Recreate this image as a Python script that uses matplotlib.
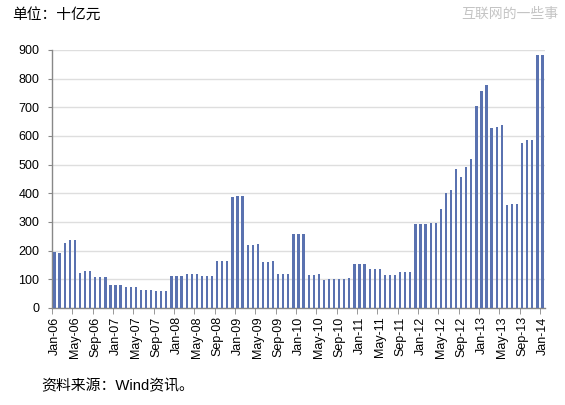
import matplotlib
matplotlib.use("Agg")
import matplotlib.pyplot as plt
from matplotlib.ticker import FixedLocator, NullFormatter

plt.rcParams['font.family'] = ['Liberation Sans', 'Noto Sans CJK SC', 'DejaVu Sans']

months = ['Jan', 'Feb', 'Mar', 'Apr', 'May', 'Jun', 'Jul', 'Aug', 'Sep', 'Oct', 'Nov', 'Dec']
labels = [f"{m}-{y:02d}" for y in range(6, 14) for m in months] + ['Jan-14']

values = [
    # 2006
    194, 193, 227, 236, 238, 123, 128, 129, 108, 108, 108, 79,
    # 2007
    79, 79, 74, 74, 74, 64, 64, 64, 58, 58, 58, 110,
    # 2008
    110, 110, 117, 117, 117, 110, 110, 110, 163, 163, 163, 388,
    # 2009
    392, 392, 219, 219, 222, 162, 162, 164, 117, 117, 117, 258,
    # 2010
    258, 258, 115, 115, 119, 98, 100, 100, 100, 100, 106, 152,
    # 2011
    155, 155, 135, 135, 135, 116, 116, 116, 126, 126, 126, 294,
    # 2012
    294, 294, 296, 296, 344, 400, 412, 484, 456, 492, 519, 706,
    # 2013
    756, 779, 628, 631, 638, 359, 362, 362, 576, 586, 587, 883,
    # 2014
    883,
]

yticks = list(range(0, 1000, 100))

fig = plt.figure(figsize=(5.65, 4.05), dpi=100)
ax = fig.add_axes([52/565, 1 - 308/405, (545 - 52)/565, (308 - 50)/405])

x = list(range(len(values)))
ax.bar(x, values, width=0.45, color='#5a72b0', zorder=3)

ax.set_xlim(-0.5, len(values) - 0.5)
ax.set_ylim(0, 900)
ax.set_yticks(yticks)
ax.yaxis.grid(True, color='#dedede', linewidth=1.0, zorder=0)
ax.tick_params(axis='y', length=3, color='#888888', labelsize=9, pad=6)

major = list(range(0, len(values), 4))
ax.set_xticks(major)
ax.set_xticklabels([labels[i] for i in major], rotation=90, fontsize=9)
ax.tick_params(axis='x', which='major', length=0, pad=6)
ax.xaxis.set_minor_locator(FixedLocator([i - 0.5 for i in range(0, len(values) + 1, 4)]))
ax.xaxis.set_minor_formatter(NullFormatter())
ax.tick_params(axis='x', which='minor', length=4, color='#888888')

for s in ['top', 'right']:
    ax.spines[s].set_visible(False)
for s in ['left', 'bottom']:
    ax.spines[s].set_color('#888888')
    ax.spines[s].set_linewidth(1.0)

fig.text(12/565, 1 - 16/405, '单位：十亿元', fontsize=10.6, va='center', ha='left')
fig.text(558/565, 1 - 14/405, '互联网的一些事', fontsize=10, va='center', ha='right', color='#c4c4c4')
fig.text(41/565, 1 - 386/405, '资料来源：Wind资讯。', fontsize=10.7, va='center', ha='left')

fig.savefig('out.png', dpi=100)
